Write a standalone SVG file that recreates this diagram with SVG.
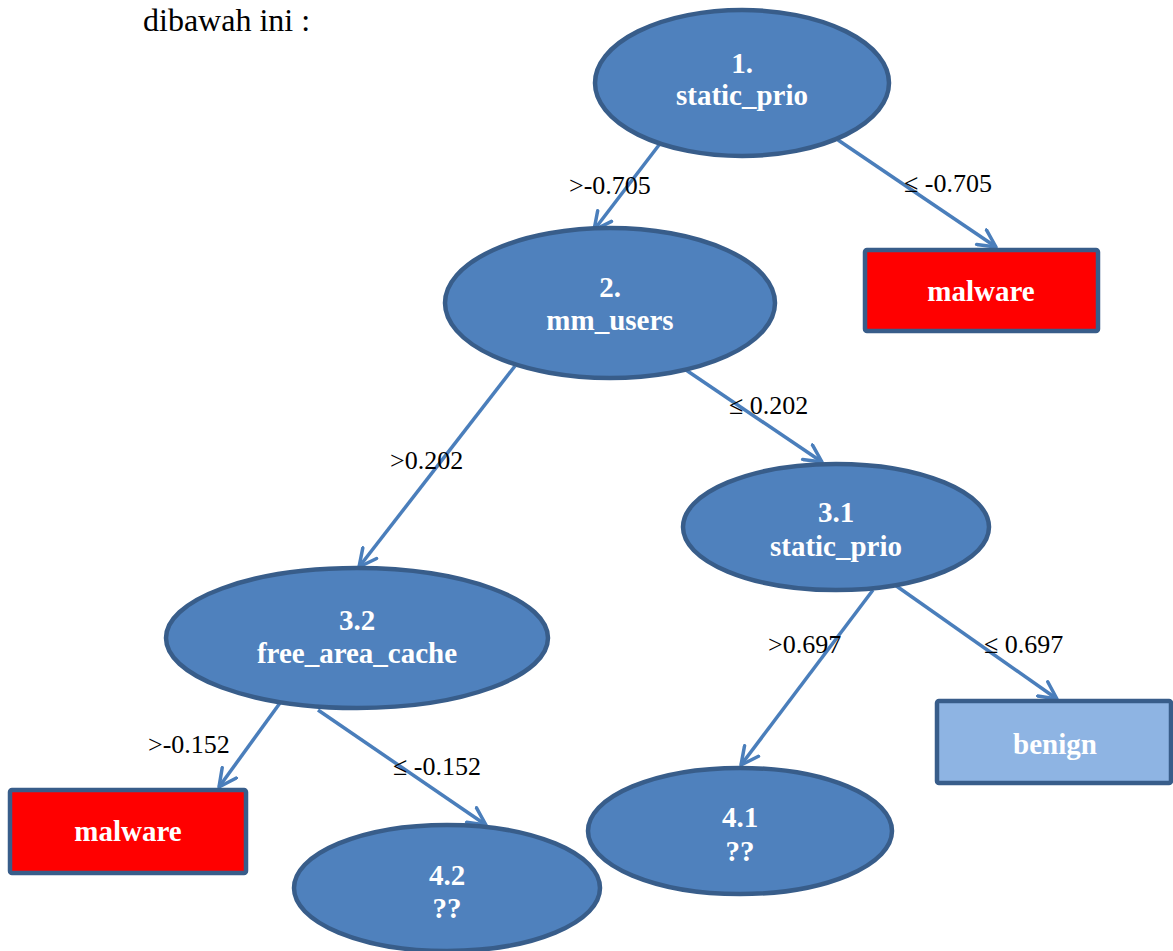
<svg xmlns="http://www.w3.org/2000/svg" width="1173" height="951" viewBox="0 0 1173 951">
  <style>
    .node { fill: #4F81BD; stroke: #385D8A; stroke-width: 4.5; }
    .bad { fill: #FF0000; stroke: #385D8A; stroke-width: 4.5; }
    .good { fill: #8EB4E3; stroke: #385D8A; stroke-width: 4.5; }
    text { font-family: "Liberation Serif", "Times New Roman", serif; }
    .lbl { font-weight: bold; font-size: 29px; fill: #FFFFFF; text-anchor: middle; }
    .edge { stroke: #4A7EBB; stroke-width: 3.5; fill: none; marker-end: url(#arrow); }
    .cond { font-size: 26px; fill: #000000; }
  </style>
  <defs>
    <marker id="arrow" viewBox="0 0 12 12" refX="11" refY="6" markerWidth="6" markerHeight="6" orient="auto" markerUnits="strokeWidth">
      <path d="M1,1 L11,6 L1,11" fill="none" stroke="#4A7EBB" stroke-width="2" stroke-linecap="round" stroke-linejoin="round"/>
    </marker>
  </defs>
  <rect width="1173" height="951" fill="#FFFFFF"/>
  <text x="143" y="31" font-size="32" fill="#000000">dibawah ini :</text>

  <g id="connectors">
    <line class="edge" x1="659" y1="145" x2="594" y2="230"/>
    <line class="edge" x1="838" y1="140" x2="996" y2="247"/>
    <line class="edge" x1="515" y1="366" x2="359" y2="567"/>
    <line class="edge" x1="686" y1="370" x2="822" y2="462"/>
    <line class="edge" x1="873" y1="590" x2="741" y2="765"/>
    <line class="edge" x1="895" y1="585" x2="1057" y2="699"/>
    <line class="edge" x1="280" y1="703" x2="219" y2="787"/>
    <line class="edge" x1="318" y1="710" x2="486" y2="825"/>
  </g>

  <g id="edge-labels">
    <text class="cond" x="569" y="194">&gt;-0.705</text>
    <text class="cond" x="904" y="192">≤ -0.705</text>
    <text class="cond" x="390" y="469">&gt;0.202</text>
    <text class="cond" x="729" y="414">≤ 0.202</text>
    <text class="cond" x="768" y="653">&gt;0.697</text>
    <text class="cond" x="984" y="653">≤ 0.697</text>
    <text class="cond" x="148" y="753">&gt;-0.152</text>
    <text class="cond" x="393" y="775">≤ -0.152</text>
  </g>

  <g id="n1">
    <ellipse class="node" cx="742" cy="83" rx="147" ry="73"/>
    <text class="lbl" x="742" y="73">1.</text>
    <text class="lbl" x="742" y="105">static_prio</text>
  </g>
  <g id="leaf-malware-1">
    <rect class="bad" x="865" y="250" width="233" height="81" rx="2"/>
    <text class="lbl" x="981" y="301">malware</text>
  </g>
  <g id="n2">
    <ellipse class="node" cx="610" cy="303" rx="165" ry="75"/>
    <text class="lbl" x="610" y="297">2.</text>
    <text class="lbl" x="610" y="330">mm_users</text>
  </g>
  <g id="n3-1">
    <ellipse class="node" cx="836" cy="527" rx="153" ry="63"/>
    <text class="lbl" x="836" y="522">3.1</text>
    <text class="lbl" x="836" y="556">static_prio</text>
  </g>
  <g id="n3-2">
    <ellipse class="node" cx="357" cy="638" rx="191" ry="70"/>
    <text class="lbl" x="357" y="630">3.2</text>
    <text class="lbl" x="357" y="663">free_area_cache</text>
  </g>
  <g id="leaf-benign">
    <rect class="good" x="937" y="701" width="234" height="82" rx="2"/>
    <text class="lbl" x="1055" y="754">benign</text>
  </g>
  <g id="leaf-malware-2">
    <rect class="bad" x="10" y="790" width="236" height="83" rx="2"/>
    <text class="lbl" x="128" y="841">malware</text>
  </g>
  <g id="n4-1">
    <ellipse class="node" cx="740" cy="831" rx="152" ry="63"/>
    <text class="lbl" x="740" y="827">4.1</text>
    <text class="lbl" x="740" y="861">??</text>
  </g>
  <g id="n4-2">
    <ellipse class="node" cx="447" cy="888" rx="153" ry="63"/>
    <text class="lbl" x="447" y="885">4.2</text>
    <text class="lbl" x="447" y="918">??</text>
  </g>
</svg>
